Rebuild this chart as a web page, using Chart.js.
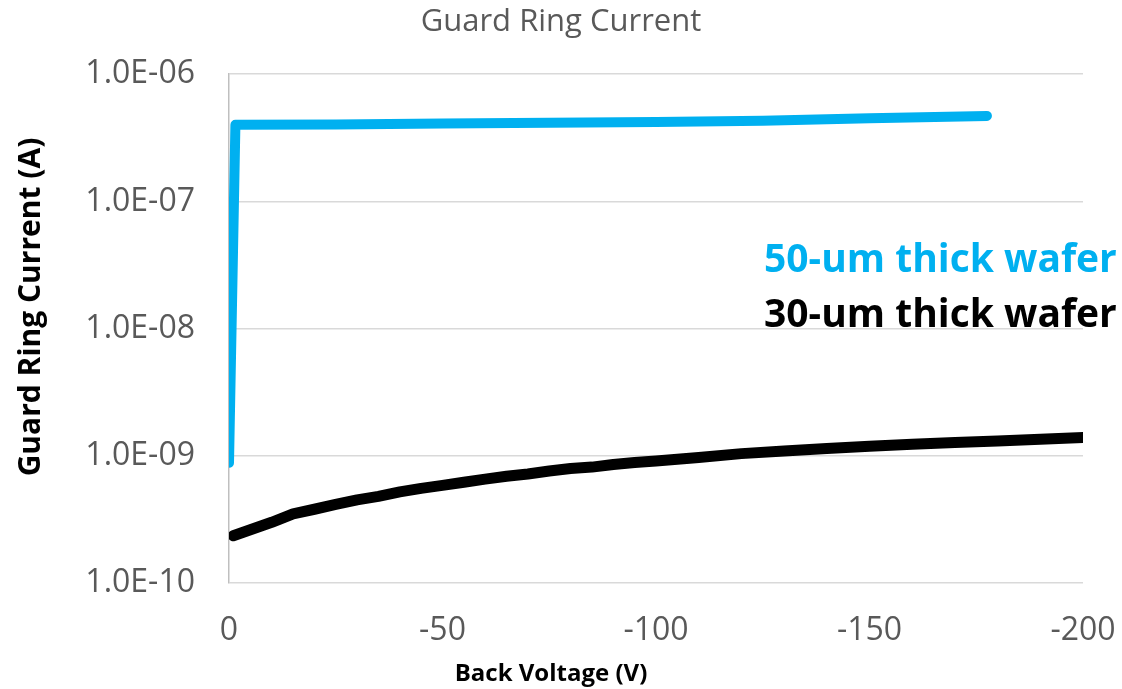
<!DOCTYPE html>
<html>
<head>
<meta charset="utf-8">
<script src="https://cdn.jsdelivr.net/npm/chart.js@4.4.1/dist/chart.umd.min.js"></script>
<style>
    html, body { margin: 0; padding: 0; background: #ffffff; }
    #wrap { width: 1122px; height: 689px; }
</style>
</head>
<body>
<div id="wrap"><canvas id="chart" width="1122" height="689"></canvas></div>
<script>
// Back voltage (V) and guard ring current (A)
const thickVoltage = [0, -1.5, -25, -50, -75, -100, -125, -150, -177.5];
const thickCurrent = [8.8e-10, 4.0e-7, 4.03e-7, 4.1e-7, 4.15e-7, 4.2e-7, 4.3e-7, 4.5e-7, 4.7e-7];

const thinVoltage = [-1, -5, -10, -15, -20, -25, -30, -35, -40, -45, -50, -55, -60, -65, -70,
    -75, -80, -85, -90, -95, -100, -110, -120, -130, -140, -150, -160, -170, -180, -190, -200];
const thinCurrent = [2.35e-10, 2.62e-10, 3.0e-10, 3.5e-10, 3.8e-10, 4.15e-10, 4.5e-10, 4.8e-10,
    5.2e-10, 5.55e-10, 5.85e-10, 6.2e-10, 6.55e-10, 6.9e-10, 7.2e-10, 7.6e-10, 7.95e-10,
    8.15e-10, 8.55e-10, 8.85e-10, 9.1e-10, 9.7e-10, 1.04e-9, 1.09e-9, 1.14e-9, 1.19e-9,
    1.23e-9, 1.27e-9, 1.31e-9, 1.35e-9, 1.39e-9];

const seriesNames = ['50-um thick wafer', '30-um thick wafer'];
const seriesColors = ['#00b0f0', '#000000'];

const yTickValues = [1e-10, 1e-9, 1e-8, 1e-7, 1e-6];
const yTickLabels = ['1.0E-10', '1.0E-09', '1.0E-08', '1.0E-07', '1.0E-06'];

const xAxisTitle = 'Back Voltage (V)';
const yAxisTitle = 'Guard Ring Current (A)';

const FONT = '"Open Sans", sans-serif';

function toPoints(xs, ys) {
    return xs.map((x, i) => ({ x: x, y: ys[i] }));
}

// series names inside the plot, axis titles placed like the original (not centred on the plot)
const textOverlay = {
    id: 'textOverlay',
    afterDraw(chart) {
        const ctx = chart.ctx;
        const area = chart.chartArea;
        ctx.save();
        ctx.font = 'bold 39px ' + FONT;
        ctx.textAlign = 'left';
        ctx.textBaseline = 'alphabetic';
        seriesNames.forEach((name, i) => {
            ctx.fillStyle = seriesColors[i];
            ctx.fillText(name, area.left + 535, area.top + 198 + i * 55);
        });

        ctx.fillStyle = '#000000';
        ctx.textAlign = 'center';
        ctx.textBaseline = 'middle';
        ctx.font = 'bold 24px ' + FONT;
        ctx.fillText(xAxisTitle, 551, 674);

        ctx.font = 'bold 30px ' + FONT;
        ctx.translate(31, 307);
        ctx.rotate(-Math.PI / 2);
        ctx.fillText(yAxisTitle, 0, 0);
        ctx.restore();
    }
};

new Chart(document.getElementById('chart'), {
    type: 'line',
    data: {
        datasets: [
            {
                label: seriesNames[0],
                data: toPoints(thickVoltage, thickCurrent),
                borderColor: seriesColors[0],
                borderWidth: 10,
                pointRadius: 0,
                borderCapStyle: 'round',
                borderJoinStyle: 'round',
                tension: 0
            },
            {
                label: seriesNames[1],
                data: toPoints(thinVoltage, thinCurrent),
                borderColor: seriesColors[1],
                borderWidth: 11,
                pointRadius: 0,
                borderCapStyle: 'round',
                borderJoinStyle: 'round',
                tension: 0
            }
        ]
    },
    options: {
        responsive: false,
        animation: false,
        layout: { padding: { left: 0, right: 0, top: 0, bottom: 0 } },
        plugins: {
            legend: { display: false },
            tooltip: { enabled: false },
            title: {
                display: true,
                text: 'Guard Ring Current',
                color: '#595959',
                font: { family: FONT, size: 31, weight: 'normal' },
                padding: { top: 4, bottom: 33 }
            }
        },
        scales: {
            x: {
                type: 'linear',
                min: -200,
                max: 0,
                reverse: true,
                grid: { display: false, drawTicks: false },
                border: { display: false },
                ticks: {
                    stepSize: 50,
                    color: '#595959',
                    font: { family: FONT, size: 32 },
                    padding: 29,
                    maxRotation: 0
                },
                afterFit(scale) {
                    scale.height = 106;
                    scale.paddingRight = 39;
                    scale.paddingLeft = 0;
                }
            },
            y: {
                type: 'logarithmic',
                min: 1e-10,
                max: 1e-6,
                afterBuildTicks(scale) {
                    scale.ticks = yTickValues.map(v => ({ value: v }));
                },
                grid: { color: '#d9d9d9', lineWidth: 1.5, drawTicks: false },
                border: { display: true, color: '#bfbfbf', width: 1.5 },
                ticks: {
                    color: '#595959',
                    font: { family: FONT, size: 32 },
                    padding: 34,
                    callback(value) {
                        const i = yTickValues.findIndex(v => Math.abs(v - value) / v < 1e-6);
                        return i >= 0 ? yTickLabels[i] : '';
                    }
                },
                afterFit(scale) { scale.width = 229; }
            }
        }
    },
    plugins: [textOverlay]
});
</script>
</body>
</html>
